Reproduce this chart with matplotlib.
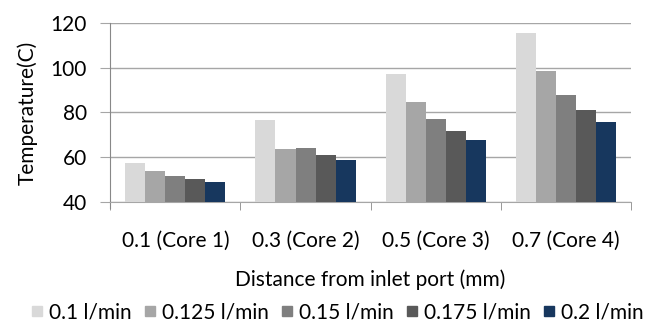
import matplotlib
matplotlib.use("Agg")
import matplotlib.pyplot as plt
import numpy as np
from matplotlib.lines import Line2D

plt.rcParams['font.family'] = ['Lato', 'DejaVu Sans']

categories = ['0.1 (Core 1)', '0.3 (Core 2)', '0.5 (Core 3)', '0.7 (Core 4)']
series = ['0.1 l/min', '0.125 l/min', '0.15 l/min', '0.175 l/min', '0.2 l/min']
s_01 = [57.2, 76.4, 97.0, 115.6]
s_0125 = [53.7, 63.7, 84.6, 98.6]
s_015 = [51.5, 64.0, 76.9, 87.9]
s_0175 = [50.2, 60.8, 71.5, 80.9]
s_02 = [49.1, 58.5, 67.8, 75.7]
values = [s_01, s_0125, s_015, s_0175, s_02]
colors = ['#d9d9d9', '#a6a6a6', '#7f7f7f', '#595959', '#17375e']

fig = plt.figure(figsize=(6.53, 3.22), dpi=100)
ax = fig.add_axes([0.169, 0.373, 0.797, 0.556])

x = np.arange(len(categories))
w = 1 / 6.5
for i, vals in enumerate(values):
    ax.bar(x + (i - 2) * w, np.array(vals) - 40, bottom=40, width=w,
           color=colors[i], zorder=3)

ax.set_xlim(-0.5, 3.5)
ax.set_ylim(40, 120)
ax.set_yticks([40, 60, 80, 100, 120])
ax.yaxis.grid(True, color='#a6a6a6', linewidth=1, zorder=0)
for s in ['top', 'right']:
    ax.spines[s].set_visible(False)
ax.spines['left'].set_color('#888888')
ax.spines['bottom'].set_color('#a6a6a6')
ax.spines['left'].set_bounds(37.2, 120)

ax.set_xticks(x)
ax.set_xticklabels(categories)
ax.set_xticks(np.arange(-0.5, 4, 1), minor=True)
ax.tick_params(axis='x', which='major', length=0, pad=21, labelsize=15)
ax.tick_params(axis='x', which='minor', length=6, color='#888888')
ax.tick_params(axis='y', length=7, color='#a6a6a6', labelsize=15, pad=10)

ax.set_ylabel('Temperature(C)', fontsize=15, labelpad=9)
ax.set_xlabel('Distance from inlet port (mm)', fontsize=15, labelpad=13)

handles = [Line2D([], [], marker='s', linestyle='', markersize=7.2,
                  markerfacecolor=c, markeredgecolor=c) for c in colors]
fig.legend(handles, series, loc='center', bbox_to_anchor=(0.515, 0.03),
           ncol=5, frameon=False, fontsize=15, handletextpad=0.15,
           columnspacing=0.5, handlelength=0.8, borderpad=0)

fig.savefig('out.png', dpi=100)
